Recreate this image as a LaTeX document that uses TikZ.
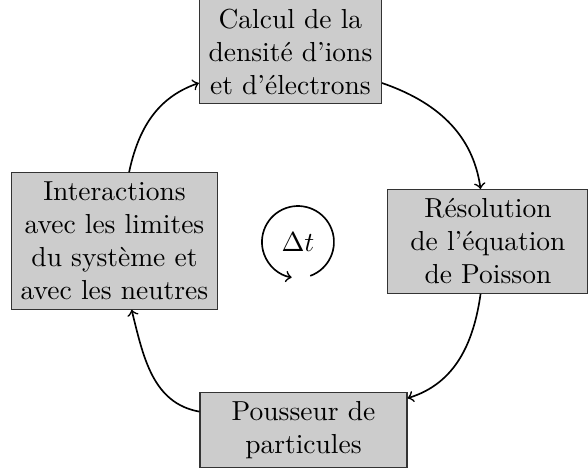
\documentclass[tikz,border=0pt]{standalone}
\usepackage{fontspec}
\usepackage{amsmath,amssymb}
\usetikzlibrary{positioning, calc}

\begin{document}
\begin{tikzpicture}[
    stepbox/.style={rectangle, align=center, draw=black!80, fill=black!20},
    arrow/.style={semithick,->},
]
    \useasboundingbox (0,0) rectangle (7.515,-6.02);

    \node (calcul) [stepbox] at (3.712,-0.658) {Calcul de la\\densité d'ions\\et d'électrons};
    \node (poisson) [stepbox, minimum width=2.556cm] at (6.236,-3.086) {Résolution\\de l'équation\\de Poisson};
    \node (pousseur) [stepbox, minimum width=2.645cm] at (3.879,-5.495) {Pousseur de\\particules};
    \node (interact) [stepbox] at (1.463,-3.080) {Interactions\\avec les limites\\du système et\\avec les neutres};
    \node (dt) at (3.808,-3.093) {$\Delta t$};

    \draw [arrow] (interact) to[out=78, in=199] (calcul);
    \draw [arrow] (calcul) to[out=-19, in=98] (poisson);
    \draw [arrow] (poisson) to[out=-98, in=17] (pousseur);
    \draw [arrow] (pousseur) to[out=170, in=-76] (interact);

    % boucle du pas de temps
    \draw [arrow] ([shift={(-70:0.46)}]dt.center) arc[start angle=-70, end angle=260, radius=0.46];

\end{tikzpicture}
\end{document}
